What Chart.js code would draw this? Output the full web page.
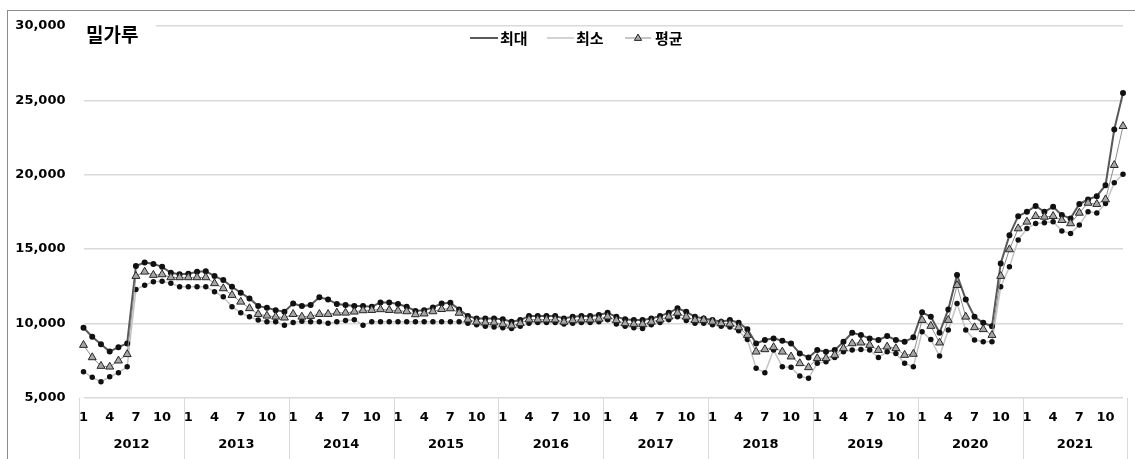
<!DOCTYPE html>
<html lang="ko">
<head>
<meta charset="utf-8">
<title>밀가루</title>
<script src="https://cdn.jsdelivr.net/npm/chart.js@4.4.1/dist/chart.umd.min.js"></script>
<style>
  html, body { margin: 0; padding: 0; background: #fff; }
  #wrap { position: relative; width: 1135px; height: 459px; overflow: hidden; }
  #frame { position: absolute; left: 7px; top: 10px; width: 1140px; height: 460px;
           border-left: 1px solid #8c8c8c; border-top: 1px solid #8c8c8c; pointer-events: none; }
  canvas { position: absolute; left: 0; top: 0; }
</style>
</head>
<body>
<div id="wrap">
  <canvas id="flour-chart" width="1135" height="459"></canvas>
  <div id="frame"></div>
</div>
<script>
const YEARS = [2012, 2013, 2014, 2015, 2016, 2017, 2018, 2019, 2020, 2021];
const MONTHS = [1, 2, 3, 4, 5, 6, 7, 8, 9, 10, 11, 12];
const MONTH_TICKS = [1, 4, 7, 10];

// 월별 가격 (원)
const MAX_PRICE = [
  9700, 9100, 8600, 8100, 8400, 8650, 13850, 14100, 14000, 13800, 13400, 13300,
  13330, 13470, 13510, 13180, 12910, 12460, 12060, 11680, 11160, 11050, 10890, 10780,
  11340, 11160, 11230, 11750, 11610, 11300, 11230, 11160, 11160, 11120, 11410, 11410,
  11300, 11120, 10830, 10890, 11070, 11340, 11380, 10940, 10490, 10330, 10330, 10330,
  10270, 10110, 10220, 10490, 10490, 10490, 10490, 10330, 10440, 10490, 10490, 10560,
  10710, 10440, 10270, 10220, 10220, 10330, 10490, 10710, 11010, 10780, 10440, 10330,
  10220, 10110, 10220, 10040, 9600, 8650, 8880, 8990, 8830, 8650, 7980, 7710,
  8200, 8090, 8200, 8760, 9370, 9210, 8990, 8880, 9150, 8880, 8760, 9060,
  10740, 10440, 9370, 10940, 13250, 11610, 10440, 10040, 9800, 14030, 15930, 17210,
  17500, 17900, 17500, 17840, 17280, 17060, 18020, 18330, 18550, 19290, 23040, 25500
];
const MIN_PRICE = [
  6750, 6370, 6080, 6410, 6680, 7080, 12280, 12570, 12800, 12840, 12690, 12460,
  12460, 12460, 12460, 12130, 11790, 11120, 10710, 10440, 10220, 10110, 10110, 9880,
  10050, 10150, 10100, 10100, 10000, 10100, 10200, 10250, 9880, 10100, 10100, 10100,
  10100, 10100, 10100, 10100, 10100, 10100, 10100, 10100, 10000, 9900, 9800, 9750,
  9700, 9650, 9800, 10000, 10050, 10050, 10050, 9950, 10000, 10050, 10050, 10100,
  10250, 9950, 9800, 9700, 9650, 9900, 10050, 10250, 10450, 10200, 10000, 10000,
  9900, 9800, 9750, 9500, 8920, 6980, 6680, 8200, 7080, 7040, 6460, 6300,
  7310, 7420, 7710, 8090, 8200, 8250, 8200, 7710, 8090, 7980, 7310, 7080,
  9430, 8920, 7800, 9550, 11340, 9550, 8880, 8760, 8760, 12460, 13800, 15600,
  16380, 16720, 16760, 16830, 16220, 16050, 16610, 17500, 17430, 18060, 19450, 20030
];
const AVG_PRICE = [
  8540, 7710, 7130, 7080, 7490, 7920, 13180, 13470, 13250, 13290, 13090, 13090,
  13090, 13090, 13090, 12690, 12350, 11900, 11450, 11010, 10620, 10510, 10440, 10380,
  10620, 10440, 10490, 10620, 10620, 10710, 10710, 10780, 10870, 10890, 10940, 10890,
  10850, 10800, 10600, 10650, 10800, 10950, 11000, 10700, 10250, 10100, 10050, 10050,
  9950, 9850, 10000, 10250, 10250, 10250, 10250, 10100, 10200, 10250, 10250, 10300,
  10450, 10200, 10000, 9950, 9950, 10100, 10250, 10450, 10700, 10440, 10220, 10220,
  10110, 10000, 9960, 9730, 9210, 8090, 8250, 8390, 8090, 7760, 7310, 7040,
  7650, 7650, 7870, 8320, 8650, 8700, 8540, 8200, 8430, 8320, 7870, 7940,
  10220, 9820, 8700, 10220, 12570, 10440, 9730, 9600, 9210, 13180, 14970, 16380,
  16830, 17210, 17160, 17210, 16940, 16720, 17430, 18100, 18020, 18330, 20640, 23260
];

const labels = [];
YEARS.forEach(y => MONTHS.forEach(m => labels.push(y + '.' + m)));

const NUM_FONT = '"DejaVu Sans", "Noto Sans CJK KR", sans-serif';
const KR_FONT = '"Noto Sans CJK KR", "DejaVu Sans", sans-serif';
const GRID = '#d9d9d9';

// 연도 구분선과 연도 라벨 (x축 아래 두 번째 줄)
const yearAxis = {
  id: 'yearAxis',
  afterDraw(chart) {
    const { ctx, chartArea, scales: { x } } = chart;
    const step = x.width / labels.length;
    ctx.save();
    ctx.strokeStyle = GRID;
    ctx.lineWidth = 1;
    ctx.fillStyle = '#000';
    ctx.font = 'bold 13px ' + NUM_FONT;
    ctx.textAlign = 'center';
    ctx.textBaseline = 'middle';
    YEARS.forEach((year, k) => {
      const left = x.getPixelForValue(k * 12) - step / 2;
      const right = x.getPixelForValue(k * 12 + 11) + step / 2;
      [left, right].forEach(px => {
        ctx.beginPath();
        ctx.moveTo(Math.round(px) + 0.5, chartArea.bottom);
        ctx.lineTo(Math.round(px) + 0.5, chart.height);
        ctx.stroke();
      });
      ctx.fillText(String(year), (left + right) / 2, chartArea.bottom + 47);
    });
    ctx.restore();
  }
};

// 제목과 범례
const titleLegend = {
  id: 'titleLegend',
  afterDraw(chart) {
    const { ctx } = chart;
    const ds = chart.data.datasets;
    ctx.save();
    ctx.fillStyle = '#fff';
    ctx.fillRect(80, 18, 76, 28);
    ctx.fillStyle = '#000';
    ctx.font = 'bold 19px ' + KR_FONT;
    ctx.textAlign = 'left';
    ctx.textBaseline = 'middle';
    ctx.fillText('밀가루', 86, 35);

    ctx.font = 'bold 15px ' + KR_FONT;
    const items = [
      { d: ds[1], x0: 470, x1: 498, tx: 500 },
      { d: ds[2], x0: 547, x1: 574, tx: 576 },
      { d: ds[0], x0: 625, x1: 651, tx: 655 }
    ];
    const y = 38;
    items.forEach(it => {
      ctx.strokeStyle = it.d.borderColor;
      ctx.lineWidth = it.d.borderWidth;
      ctx.beginPath();
      ctx.moveTo(it.x0, y);
      ctx.lineTo(it.x1, y);
      ctx.stroke();
      if (it.d.pointStyle === 'triangle') {
        const cx = (it.x0 + it.x1) / 2, r = 4;
        ctx.beginPath();
        ctx.moveTo(cx, y - r);
        ctx.lineTo(cx + r * 0.9, y + r * 0.6);
        ctx.lineTo(cx - r * 0.9, y + r * 0.6);
        ctx.closePath();
        ctx.fillStyle = it.d.pointBackgroundColor;
        ctx.fill();
        ctx.strokeStyle = it.d.pointBorderColor;
        ctx.lineWidth = 1;
        ctx.stroke();
      }
      ctx.fillStyle = '#000';
      ctx.fillText(it.d.label, it.tx, y);
    });
    ctx.restore();
  }
};

new Chart(document.getElementById('flour-chart').getContext('2d'), {
  type: 'line',
  data: {
    labels: labels,
    datasets: [
      {
        label: '평균',
        data: AVG_PRICE,
        borderColor: '#8c8c8c',
        borderWidth: 1,
        pointStyle: 'triangle',
        pointRadius: 4.6,
        pointBackgroundColor: '#a6a6a6',
        pointBorderColor: '#262626',
        pointBorderWidth: 1,
        order: 0
      },
      {
        label: '최대',
        data: MAX_PRICE,
        borderColor: '#595959',
        borderWidth: 2,
        pointRadius: 2,
        pointBackgroundColor: '#111',
        pointBorderColor: '#111',
        order: 1
      },
      {
        label: '최소',
        data: MIN_PRICE,
        borderColor: '#c4c4c4',
        borderWidth: 1.5,
        pointRadius: 2,
        pointBackgroundColor: '#111',
        pointBorderColor: '#111',
        order: 2
      }
    ]
  },
  options: {
    responsive: false,
    devicePixelRatio: 1,
    animation: false,
    layout: { padding: { top: 26, right: 12, left: 0, bottom: 0 } },
    plugins: {
      legend: { display: false },
      title: { display: false },
      tooltip: { enabled: false }
    },
    elements: { line: { tension: 0 } },
    scales: {
      x: {
        grid: { display: false, drawTicks: false },
        border: { display: false },
        afterFit: (scale) => { scale.height = 61.3; },
        ticks: {
          autoSkip: false,
          maxRotation: 0,
          minRotation: 0,
          padding: 12,
          color: '#000',
          font: { family: NUM_FONT, size: 13, weight: 'bold' },
          callback: (value, index) => {
            const m = MONTHS[index % 12];
            return MONTH_TICKS.includes(m) ? String(m) : '';
          }
        }
      },
      y: {
        min: 5000,
        max: 30000,
        grid: { color: GRID, lineWidth: 1.5, drawTicks: false },
        border: { display: false },
        afterFit: (scale) => { scale.width = 83.5; },
        ticks: {
          stepSize: 5000,
          padding: 18,
          color: '#000',
          font: { family: NUM_FONT, size: 13, weight: 'bold' },
          callback: (v) => v.toLocaleString('en-US')
        }
      }
    }
  },
  plugins: [yearAxis, titleLegend]
});
</script>
</body>
</html>
